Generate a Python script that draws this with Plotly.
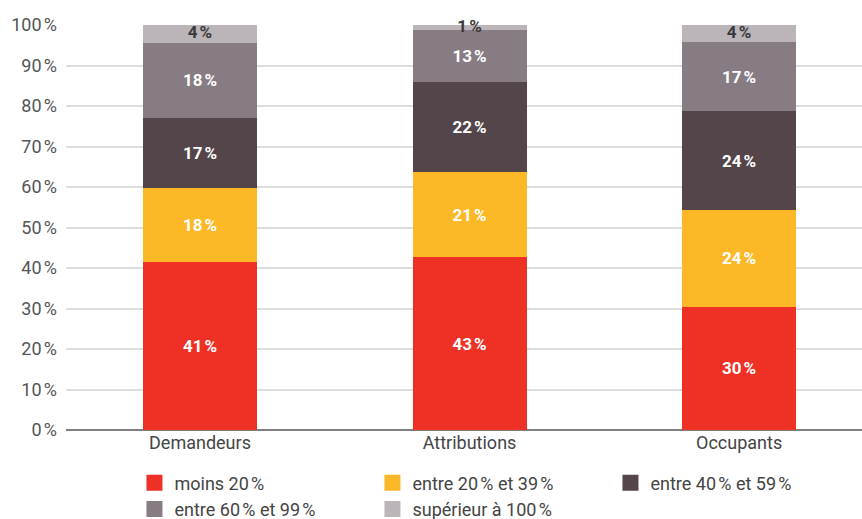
import plotly.graph_objects as go

categories = ["Demandeurs", "Attributions", "Occupants"]
series_names = ["moins 20\u202f%", "entre 20\u202f% et 39\u202f%", "entre 40\u202f% et 59\u202f%",
                "entre 60\u202f% et 99\u202f%", "supérieur à 100\u202f%"]
moins20 = [41.4, 42.6, 30.4]
e20_39 = [18.3, 21.1, 23.9]
e40_59 = [17.3, 22.2, 24.4]
e60_99 = [18.6, 12.9, 17.1]
sup100 = [4.4, 1.2, 4.2]
labels = [
    ["41\u202f%", "43\u202f%", "30\u202f%"],
    ["18\u202f%", "21\u202f%", "24\u202f%"],
    ["17\u202f%", "22\u202f%", "24\u202f%"],
    ["18\u202f%", "13\u202f%", "17\u202f%"],
    ["4\u202f%", "1\u202f%", "4\u202f%"],
]
tick_vals = [0, 10, 20, 30, 40, 50, 60, 70, 80, 90, 100]
tick_text = [f"{v}\u202f%" for v in tick_vals]

colors = ["#EE3124", "#FDB827", "#534549", "#877C83", "#BBB5BA"]
values = [moins20, e20_39, e40_59, e60_99, sup100]

fig = go.Figure()
for i, (name, vals, col, lab) in enumerate(zip(series_names, values, colors, labels)):
    is_top = i == len(values) - 1
    fig.add_trace(go.Bar(
        x=categories, y=vals, name=name, marker_color=col, marker_line_width=0,
        width=0.423,
        text=None if is_top else lab, textposition="inside", insidetextanchor="middle",
        textfont=dict(family="Roboto", size=17, color="white", weight="bold"),
        showlegend=False, hoverinfo="skip",
    ))

# label of the top (thin) segment, centred on that segment, allowed to overflow
base_top = [sum(v[j] for v in values[:-1]) for j in range(len(categories))]
fig.add_trace(go.Scatter(
    x=categories, y=[b + s / 2 for b, s in zip(base_top, sup100)],
    mode="text", text=labels[-1], cliponaxis=False, showlegend=False, hoverinfo="skip",
    textfont=dict(family="Roboto", size=17, color="#3a3a3a", weight="bold"),
))

for name, col in zip(series_names, colors):
    fig.add_trace(go.Scatter(
        x=[None], y=[None], mode="markers", name=name,
        marker=dict(symbol="square", size=16, color=col),
    ))

fig.update_layout(
    barmode="stack",
    width=862, height=519,
    margin=dict(l=66, r=0, t=25, b=89, autoexpand=False),
    paper_bgcolor="white", plot_bgcolor="white",
    font=dict(family="Roboto", size=18, color="#444"),
    legend=dict(orientation="h", x=0.086, xanchor="left", y=-0.085, yanchor="top",
                entrywidth=193, traceorder="normal",
                font=dict(size=18, color="#444"), itemclick=False),
    xaxis=dict(range=[-0.497, 2.456], showgrid=False, ticks="", showline=False,
               tickfont=dict(size=18, color="#444")),
    yaxis=dict(range=[0, 100], tickvals=tick_vals, ticktext=tick_text,
               gridcolor="#dddddd", gridwidth=1.5, zeroline=True, zerolinecolor="#7f7f7f",
               zerolinewidth=2, showline=False, ticks="", ticklabelstandoff=8,
               tickfont=dict(size=18, color="#555")),
)
fig.write_html("out.html")
